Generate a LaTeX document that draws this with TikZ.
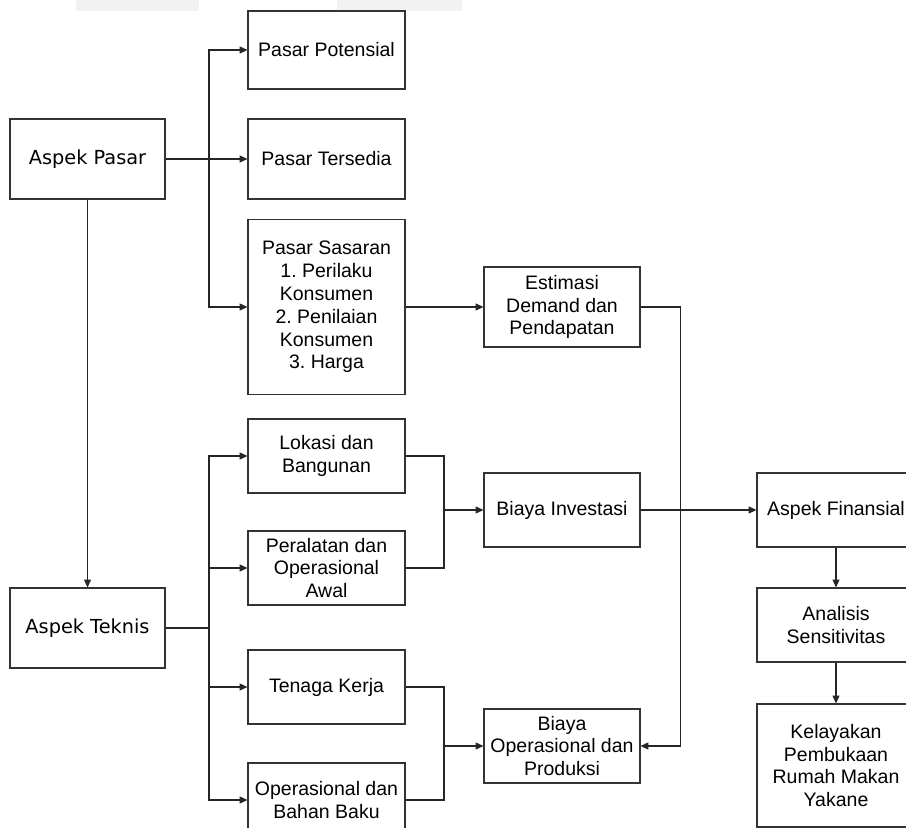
\documentclass[tikz,border=0pt]{standalone}
\usepackage{fontspec}
\setmainfont{Liberation Sans}
\newfontfamily\aspekfont{DejaVu Sans}
\usetikzlibrary{arrows.meta}

\begin{document}
\frenchspacing
\begin{tikzpicture}[x=0.02cm, y=-0.02cm,
	font=\fontsize{11.1}{13}\selectfont,
	box/.style={draw=black!80, line width=0.6pt, align=center, inner sep=0pt, minimum width=3.14cm},
	aspek/.style={box, minimum width=3.1cm, minimum height=1.6cm, font=\aspekfont\fontsize{11}{13}\selectfont},
	link/.style={draw=black!85, line width=0.6pt},
	arrow/.style={link, -{Triangle[length=4.5pt,width=4pt]}}]
\useasboundingbox (0,0) rectangle (906,828);
\clip (0,0) rectangle (906,828);
\fill[black!5] (76,0) rectangle (199,11);
\fill[black!5] (337,0) rectangle (462,11);

\node[aspek] (aspekpasar) at (87.5,159) {Aspek Pasar};
\node[box, minimum height=1.56cm] (potensial) at (326.5,50) {Pasar Potensial};
\node[box, minimum height=1.6cm] (tersedia) at (326.5,159) {Pasar Tersedia};
\node[box, minimum height=3.5cm] (sasaran) at (326.5,307) {Pasar Sasaran\\1. Perilaku\\Konsumen\\2. Penilaian\\Konsumen\\3. Harga};
\node[box, minimum width=3.12cm, minimum height=1.6cm] (estimasi) at (562,307) {Estimasi\\Demand dan\\Pendapatan};

\node[aspek] (teknis) at (87.5,628) {Aspek Teknis};
\node[box, minimum height=1.48cm] (lokasi) at (326.5,456) {Lokasi dan\\Bangunan};
\node[box, minimum height=1.48cm] (peralatan) at (326.5,568) {Peralatan dan\\Operasional\\Awal};
\node[box, minimum height=1.48cm] (tenaga) at (326.5,687) {Tenaga Kerja};
\node[box, minimum height=1.48cm] (bahanbaku) at (326.5,800) {Operasional dan\\Bahan Baku};
\node[box, minimum width=3.12cm, minimum height=1.48cm] (investasi) at (562,510) {Biaya Investasi};
\node[box, minimum width=3.12cm, minimum height=1.48cm] (produksi) at (562,746) {Biaya\\Operasional dan\\Produksi};

\node[box, minimum width=3.16cm, minimum height=1.48cm] (finansial) at (836,510) {Aspek Finansial};
\node[box, minimum width=3.16cm, minimum height=1.48cm] (sensitivitas) at (836,625) {Analisis\\Sensitivitas};
\node[box, minimum width=3.16cm, minimum height=2.46cm] (kelayakan) at (836,765.5) {Kelayakan\\Pembukaan\\Rumah Makan\\Yakane};

\coordinate (pbranch) at (209,159);
\coordinate (tbranch) at (209,628);
\coordinate (imerge) at (444,510);
\coordinate (omerge) at (444,746);

\draw[arrow] (aspekpasar.east) -- (tersedia.west);
\draw[arrow] (pbranch) |- (potensial.west);
\draw[arrow] (pbranch) |- (sasaran.west);
\draw[arrow] (sasaran.east) -- (estimasi.west);
\draw[arrow] (aspekpasar.south) -- (teknis.north);

\draw[link] (teknis.east) -- (tbranch);
\draw[arrow] (tbranch) |- (lokasi.west);
\draw[arrow] (tbranch) |- (peralatan.west);
\draw[arrow] (tbranch) |- (tenaga.west);
\draw[arrow] (tbranch) |- (bahanbaku.west);

\draw[link] (lokasi.east) -| (imerge);
\draw[link] (peralatan.east) -| (imerge);
\draw[arrow] (imerge) -- (investasi.west);
\draw[link] (tenaga.east) -| (omerge);
\draw[link] (bahanbaku.east) -| (omerge);
\draw[arrow] (omerge) -- (produksi.west);

\draw[arrow] (estimasi.east) -- ++(40,0) |- (produksi.east);
\draw[arrow] (investasi.east) -- (finansial.west);
\draw[arrow] (finansial.south) -- (sensitivitas.north);
\draw[arrow] (sensitivitas.south) -- (kelayakan.north);
\end{tikzpicture}
\end{document}
